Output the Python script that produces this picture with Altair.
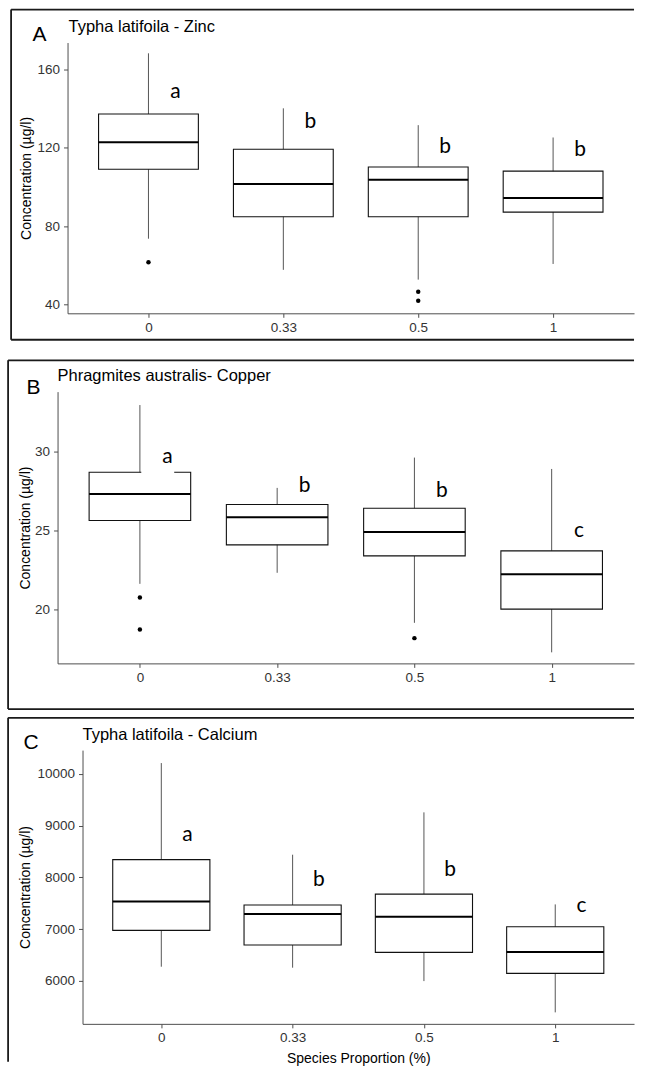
import altair as alt
import pandas as pd

# Species proportion groups (x categories)
proportions = ["0", "0.33", "0.5", "1"]
positions = [1, 2, 3, 4]

# A: Typha latifoila - Zinc (µg/l)
zn_lo = [73.6, 57.7, 52.7, 60.7]
zn_q1 = [109.1, 84.8, 84.8, 87.2]
zn_med = [122.9, 101.5, 103.7, 94.4]
zn_q3 = [137.3, 119.3, 110.2, 108.1]
zn_hi = [168.3, 140.2, 131.6, 125.3]
zn_out_pos = [1, 3, 3]
zn_out_val = [61.6, 46.5, 41.9]
zn_letters = ["a", "b", "b", "b"]
zn_letter_y = [145.3, 130.0, 117.3, 115.6]

# B: Phragmites australis - Copper (µg/l)
cu_lo = [21.62, 22.32, 19.15, 17.28]
cu_q1 = [25.63, 24.09, 23.39, 20.02]
cu_med = [27.32, 25.84, 24.91, 22.23]
cu_q3 = [28.69, 26.65, 26.41, 23.71]
cu_hi = [32.95, 27.70, 29.62, 28.90]
cu_out_pos = [1, 1, 3]
cu_out_val = [20.76, 18.73, 18.18]
cu_letters = ["a", "b", "b", "c"]
cu_letter_y = [29.28, 27.42, 27.11, 24.58]

# C: Typha latifoila - Calcium (µg/l)
ca_lo = [6273, 6254, 5995, 5391]
ca_q1 = [6975, 6691, 6550, 6144]
ca_med = [7535, 7290, 7240, 6556]
ca_q3 = [8341, 7464, 7676, 7046]
ca_hi = [10207, 8437, 9255, 7477]
ca_out_pos = []
ca_out_val = []
ca_letters = ["a", "b", "b", "c"]
ca_letter_y = [8708, 7838, 8032, 7323]

BOX_HALF = 0.37
LETTER_DX = 0.2
SANS = "Liberation Sans"
LETTER_FONT = "Lato"
RIGHT = 552
PLOT_W = RIGHT
ONE = pd.DataFrame({"k": [0]})

label_expr = "[" + ",".join("'%s'" % p for p in proportions) + "][datum.value - 1]"


def text_at(txt, x, y, size, font=SANS):
    return alt.Chart(ONE).mark_text(
        text=txt, align="left", baseline="alphabetic", font=font,
        fontSize=size, color="black"
    ).encode(x=alt.value(x), y=alt.value(y))


def segment(x1, y1, x2, y2):
    return alt.Chart(ONE).mark_rule(color="#1a1a1a", strokeWidth=1.8).encode(
        x=alt.value(x1), x2=alt.value(x2), y=alt.value(y1), y2=alt.value(y2)
    )


def panel(lo, q1, med, q3, hi, out_pos, out_val, letters, letter_y,
          ydomain, yticks, height, xrange, yoffset, ytitle_x,
          title, title_xy, tag, tag_xy, frame, xtitle=None, gap_patch=False):
    boxes = pd.DataFrame({
        "pos": positions, "lo": lo, "q1": q1, "med": med, "q3": q3, "hi": hi,
    })
    boxes["left"] = boxes["pos"] - BOX_HALF
    boxes["right"] = boxes["pos"] + BOX_HALF
    outl = pd.DataFrame({"pos": out_pos, "val": out_val})
    labs = pd.DataFrame({"pos": positions, "txt": letters, "y": letter_y})
    labs["x"] = labs["pos"] + LETTER_DX

    xs = alt.Scale(domain=[0.4, 4.6], range=xrange, nice=False, zero=False)
    ys = alt.Scale(domain=ydomain, nice=False, zero=False)
    xaxis = alt.Axis(values=positions, labelExpr=label_expr, title=xtitle,
                     titleBaseline="middle", titleY=35)
    yaxis = alt.Axis(values=yticks, format="d", offset=yoffset,
                     title="Concentration (µg/l)", titleAngle=270,
                     titleBaseline="middle", titleX=ytitle_x,
                     titleY=height / 2)

    def X(f):
        return alt.X(f, type="quantitative", scale=xs, axis=xaxis)

    def Y(f):
        return alt.Y(f, type="quantitative", scale=ys, axis=yaxis)

    base = alt.Chart(boxes)
    whisk = base.mark_rule(color="#555555", strokeWidth=1).encode(
        x=X("pos"), y=Y("lo"), y2="hi")
    box = base.mark_rect(fill="white", stroke="#111111", strokeWidth=1.1).encode(
        x=X("left"), x2="right", y=Y("q1"), y2="q3")
    median = base.mark_rule(color="black", strokeWidth=2).encode(
        x=X("left"), x2="right", y=Y("med"))
    layers = [whisk, box, median]
    if len(outl):
        layers.append(alt.Chart(outl).mark_circle(
            color="black", opacity=1, size=20).encode(x=X("pos"), y=Y("val")))
    if gap_patch:
        # white backing behind the first group letter
        patch = labs.iloc[[0]].copy()
        patch["x1"] = patch["pos"] + 0.01
        patch["x2"] = patch["x"] + 0.05
        patch["y1"] = patch["y"] - 0.8
        patch["y2"] = patch["y"] + 0.6
        layers.append(alt.Chart(patch).mark_rect(fill="white").encode(
            x=X("x1"), x2="x2", y=Y("y1"), y2="y2"))
    layers.append(alt.Chart(labs).mark_text(
        font=LETTER_FONT, fontSize=21, align="center", baseline="alphabetic",
        color="black").encode(x=X("x"), y=Y("y"), text="txt:N"))
    layers.append(text_at(title, title_xy[0], title_xy[1], 16.5))
    layers.append(text_at(tag, tag_xy[0], tag_xy[1], 21))
    left, top, right, bottom, sides = frame
    if "top" in sides:
        layers.append(segment(left, top, right, top))
    if "left" in sides:
        layers.append(segment(left, top, left, bottom))
    if "bottom" in sides:
        layers.append(segment(left, bottom, right, bottom))
    if "right" in sides:
        layers.append(segment(right, top, right, bottom))
    return alt.layer(*layers).properties(width=PLOT_W, height=height)


panel_a = panel(
    zn_lo, zn_q1, zn_med, zn_q3, zn_hi, zn_out_pos, zn_out_val,
    zn_letters, zn_letter_y,
    ydomain=[35.5, 173.8], yticks=[40, 80, 120, 160], height=271,
    xrange=[-15, RIGHT], yoffset=15, ytitle_x=-41,
    title="Typha latifoila - Zinc", title_xy=(-14, -11),
    tag="A", tag_xy=(-50, -2),
    frame=(-71.5, -33, RIGHT, 297.5, ("top", "left", "bottom")),
)

panel_b = panel(
    cu_lo, cu_q1, cu_med, cu_q3, cu_hi, cu_out_pos, cu_out_val,
    cu_letters, cu_letter_y,
    ydomain=[16.58, 33.8], yticks=[20, 25, 30], height=272,
    xrange=[-25, RIGHT], yoffset=25, ytitle_x=-32,
    title="Phragmites australis- Copper", title_xy=(-25, -10.7),
    tag="B", tag_xy=(-56, 2),
    frame=(-74.5, -31.3, RIGHT, 317.7, ("top", "left", "bottom")),
    gap_patch=True,
)

panel_c = panel(
    ca_lo, ca_q1, ca_med, ca_q3, ca_hi, ca_out_pos, ca_out_val,
    ca_letters, ca_letter_y,
    ydomain=[5169, 10458], yticks=[6000, 7000, 8000, 9000, 10000], height=274,
    xrange=[0, RIGHT], yoffset=0, ytitle_x=-57.5,
    title="Typha latifoila - Calcium", title_xy=(0, -9.7),
    tag="C", tag_xy=(-59, -1.3),
    frame=(-74.5, -32.3, RIGHT, 312, ("top", "left")),
    xtitle="Species Proportion (%)",
)

top_pair = alt.vconcat(panel_a, panel_b, spacing=17.4).resolve_scale(
    x="independent", y="independent")
chart = alt.vconcat(top_pair, panel_c, spacing=6.2).resolve_scale(
    x="independent", y="independent"
).properties(
    padding={"left": 6.6, "top": 8.1, "right": 0, "bottom": 0}
).configure_view(stroke=None).configure_axis(
    grid=False,
    domainColor="#4d4d4d",
    domainWidth=1,
    tickColor="#4d4d4d",
    tickWidth=1,
    tickSize=4,
    labelFont=SANS,
    labelFontSize=13.5,
    labelColor="#333333",
    labelPadding=4,
    titleFont=SANS,
    titleFontSize=14,
    titleFontWeight="normal",
    titleColor="black",
).configure_axisX(labelPadding=3)

chart.save("out.html", embed_options={"renderer": "svg", "actions": False})
